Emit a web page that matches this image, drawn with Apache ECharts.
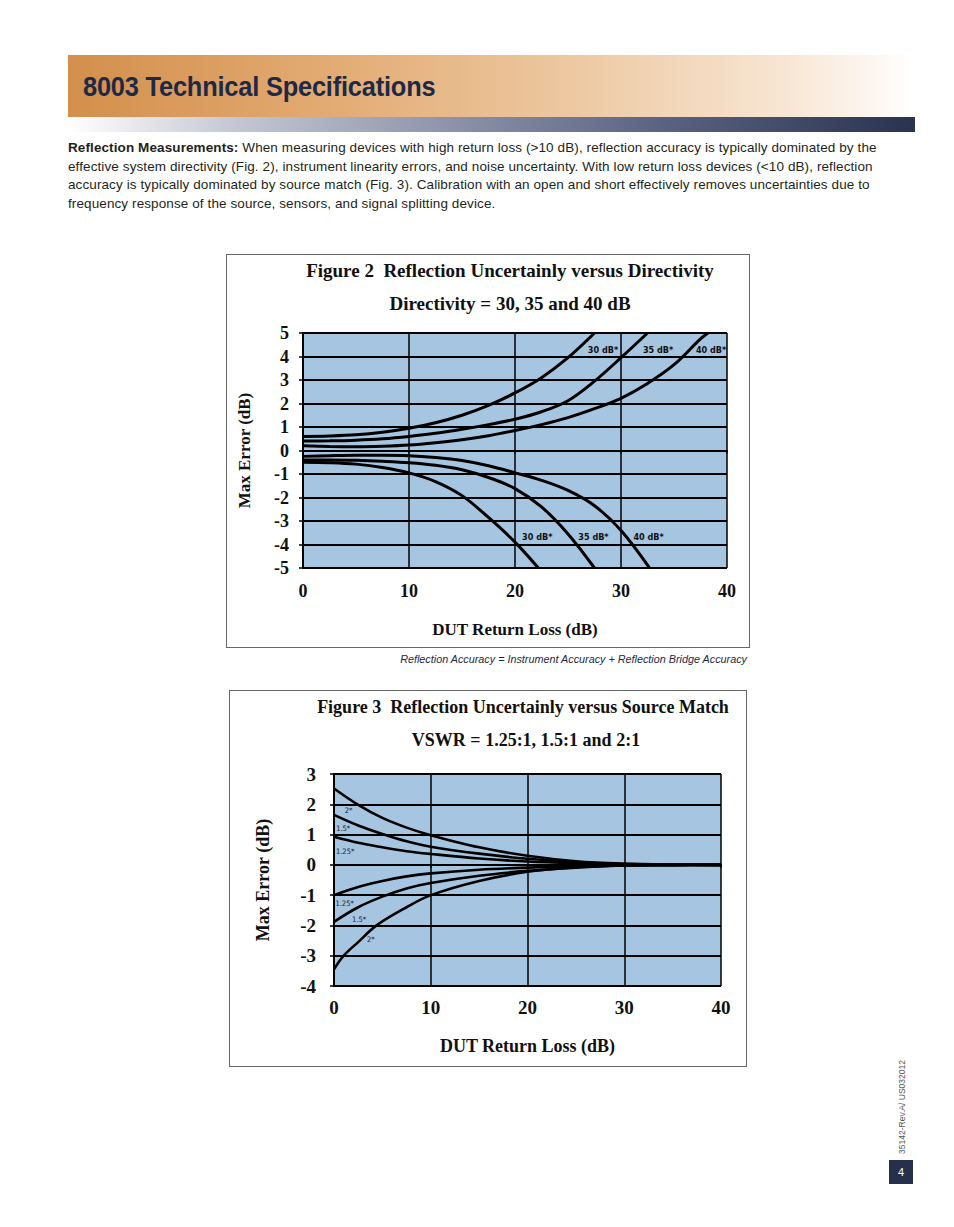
<!DOCTYPE html>
<html>
<head>
<meta charset="utf-8">
<script src="https://cdn.jsdelivr.net/npm/echarts@6/dist/echarts.min.js"></script>
<style>
  html, body { margin:0; padding:0; background:#fff; }
  body { width:954px; height:1227px; position:relative; overflow:hidden; font-family:"Liberation Sans", Arial, sans-serif; }
  #hdr { position:absolute; left:68px; top:55px; width:847px; height:62px;
    background:linear-gradient(90deg,#d38f4b 0%,#e2aa72 30%,#edc9a2 60%,#f8e6d4 85%,#ffffff 100%); }
  #hdr span { position:absolute; left:15px; top:17px; font-family:"Liberation Sans",Arial,sans-serif; font-weight:bold; font-size:27px; color:#1d2946; letter-spacing:-0.2px; transform-origin:0 0; transform:scaleX(0.94); white-space:nowrap; }
  #bar { position:absolute; left:68px; top:117px; width:847px; height:15px;
    background:linear-gradient(90deg,#ffffff 0%,#c3c6d3 20%,#8d93aa 45%,#5a6382 70%,#29334f 100%); }
  #para { position:absolute; left:68px; top:139px; width:860px; font-size:13.5px; line-height:18.7px; letter-spacing:0.1px; color:#231f20; white-space:nowrap; }
  #c1 { position:absolute; left:226px; top:254px; width:522px; height:392px; border:1px solid #666; }
  #c2 { position:absolute; left:229px; top:690px; width:516px; height:375px; border:1px solid #666; }
  #cap { position:absolute; right:207px; top:653px; font-size:10.8px; font-style:italic; color:#1d2946; white-space:nowrap; }
  #rev { position:absolute; left:902px; top:1107px; transform:translate(-50%,-50%) rotate(-90deg); font-size:8.5px; color:#555; white-space:nowrap; }
  #pg { position:absolute; left:889px; top:1160px; width:24px; height:24px; background:#26304b; color:#fff; font-size:11px; text-align:center; line-height:24px; }
</style>
</head>
<body>
<div id="hdr"><span>8003 Technical Specifications</span></div>
<div id="bar"></div>
<div id="para"><b>Reflection Measurements:</b> When measuring devices with high return loss (&gt;10 dB), reflection accuracy is typically dominated by the<br>effective system directivity (Fig. 2), instrument linearity errors, and noise uncertainty. With low return loss devices (&lt;10 dB), reflection<br>accuracy is typically dominated by source match (Fig. 3). Calibration with an open and short effectively removes uncertainties due to<br>frequency response of the source, sensors, and signal splitting device.</div>
<div id="c1"></div>
<div id="cap">Reflection Accuracy = Instrument Accuracy + Reflection Bridge Accuracy</div>
<div id="c2"></div>
<div id="rev">35142-Rev.A/ US032012</div>
<div id="pg">4</div>
<script>
// ---------- Figure 2 data (x = DUT return loss dB, y = max error dB) ----------
const fig2Title = "Figure 2  Reflection Uncertainly versus Directivity";
const fig2Sub = "Directivity = 30, 35 and 40 dB";
const fig2XTicks = [0, 10, 20, 30, 40];
const fig2YTicks = [-5, -4, -3, -2, -1, 0, 1, 2, 3, 4, 5];
const up30 = [[0,0.6],[2.5,0.62],[5,0.67],[7.5,0.78],[10,0.95],[12.5,1.18],[15,1.5],[17.5,1.92],[20,2.45],[22.5,3.1],[25,3.95],[27.5,5.0]];
const up35 = [[0,0.4],[2.5,0.41],[5,0.44],[7.5,0.5],[10,0.6],[12.5,0.73],[15,0.9],[17.5,1.1],[20,1.33],[22.5,1.65],[25,2.12],[27.5,2.95],[30,3.95],[32.5,5.0]];
const up40 = [[0,0.2],[2.5,0.17],[5,0.16],[7.5,0.18],[10,0.23],[12.5,0.33],[15,0.46],[17.5,0.63],[20,0.85],[22.5,1.1],[25,1.4],[27.5,1.78],[30,2.22],[32.5,2.85],[35,3.65],[37.5,4.75],[38.2,5.0]];
const lo30 = [[0,-0.5],[2.5,-0.52],[5,-0.58],[7.5,-0.72],[10,-0.95],[12.5,-1.32],[15,-1.92],[17.5,-2.85],[20,-3.9],[22.2,-5.0]];
const lo35 = [[0,-0.4],[2.5,-0.4],[5,-0.42],[7.5,-0.46],[10,-0.52],[12.5,-0.63],[15,-0.82],[17.5,-1.15],[20,-1.62],[22.5,-2.4],[25,-3.55],[27.5,-5.0]];
const lo40 = [[0,-0.25],[2.5,-0.22],[5,-0.2],[7.5,-0.2],[10,-0.22],[12.5,-0.3],[15,-0.43],[17.5,-0.65],[20,-0.95],[22.5,-1.27],[25,-1.7],[27.5,-2.35],[30,-3.4],[32.7,-5.0]];
const fig2Labels = ["30 dB*","35 dB*","40 dB*","30 dB*","35 dB*","40 dB*"];
const fig2LabelAt = [[28.3,4.28],[33.5,4.28],[38.5,4.28],[22.1,-3.68],[27.4,-3.68],[32.6,-3.68]];

// ---------- Figure 3 data ----------
const fig3Title = "Figure 3  Reflection Uncertainly versus Source Match";
const fig3Sub = "VSWR = 1.25:1, 1.5:1 and 2:1";
const fig3XTicks = [0, 10, 20, 30, 40];
const fig3YTicks = [-4, -3, -2, -1, 0, 1, 2, 3];
const up2   = [[0,2.52],[2.5,1.98],[5,1.55],[7.5,1.23],[10,0.98],[15,0.58],[20,0.3],[25,0.12],[30,0.04],[35,0.01],[40,0]];
const up15  = [[0,1.65],[2.5,1.3],[5,1.02],[7.5,0.78],[10,0.6],[15,0.37],[20,0.2],[25,0.09],[30,0.02],[35,0.01],[40,0]];
const up125 = [[0,0.93],[2.5,0.73],[5,0.58],[7.5,0.45],[10,0.36],[15,0.21],[20,0.11],[25,0.05],[30,0.01],[35,0],[40,0]];
const lo125 = [[0,-1.0],[2.5,-0.73],[5,-0.53],[7.5,-0.38],[10,-0.28],[15,-0.16],[20,-0.09],[25,-0.04],[30,-0.01],[35,0],[40,0]];
const lo15  = [[0,-1.88],[2.5,-1.4],[5,-1.05],[7.5,-0.78],[10,-0.6],[15,-0.36],[20,-0.2],[25,-0.09],[30,-0.02],[35,-0.01],[40,0]];
const lo2   = [[0,-3.45],[1,-3.0],[2.5,-2.55],[4.4,-2.0],[7.5,-1.4],[10,-1.0],[15,-0.53],[20,-0.23],[25,-0.08],[30,-0.02],[35,-0.01],[40,0]];
const fig3Labels = ["2*","1.5*","1.25*","1.25*","1.5*","2*"];
const fig3LabelAt = [[1.5,1.78],[0.95,1.19],[1.15,0.45],[1.1,-1.27],[2.6,-1.8],[3.8,-2.46]];

const serif = '"Liberation Serif","Times New Roman",serif';
const narrow = '"DejaVu Sans Condensed","Liberation Sans Narrow","Liberation Sans",sans-serif';

function lineSeries(data, label, at, lw, lblStyle) {
  return {
    type: 'line', data: data, smooth: 0.35, showSymbol: false, symbol: 'none',
    lineStyle: { color: '#000', width: lw }, silent: true, animation: false, z: 5,
    markPoint: {
      symbol: 'circle', symbolSize: 0, silent: true, animation: false,
      data: [{ coord: at, value: label }],
      label: Object.assign({ show: true, position: 'inside', formatter: label }, lblStyle)
    }
  };
}

function build(el, cfg) {
  const chart = echarts.init(el, null, { renderer: 'svg' });
  chart.setOption({
    animation: false,
    title: [
      { text: cfg.title, left: cfg.titleX, top: cfg.titleY, textAlign: 'center',
        textStyle: { fontFamily: serif, fontWeight: 'bold', fontSize: cfg.titleSize, color: '#111' } },
      { text: cfg.sub, left: cfg.subX, top: cfg.subY, textAlign: 'center',
        textStyle: { fontFamily: serif, fontWeight: 'bold', fontSize: cfg.subSize, color: '#111' } }
    ],
    grid: { left: cfg.grid[0], right: cfg.grid[1], top: cfg.grid[2], bottom: cfg.grid[3],
      outerBoundsMode: 'none', containLabel: false,
      show: true, backgroundColor: '#a6c5e0', borderWidth: 0 },
    xAxis: {
      type: 'value', min: cfg.xTicks[0], max: cfg.xTicks[cfg.xTicks.length - 1], interval: 10,
      name: 'DUT Return Loss (dB)', nameLocation: 'middle', nameGap: cfg.xNameGap,
      nameTextStyle: { fontFamily: serif, fontWeight: 'bold', fontSize: cfg.nameSize, color: '#111' },
      axisLine: { show: true, lineStyle: { color: '#000', width: 2 } },
      axisTick: { show: true, length: 3, lineStyle: { color: '#000', width: 1.5 } },
      axisLabel: { margin: cfg.xLabelMargin, fontFamily: serif, fontWeight: 'bold', fontSize: cfg.tickSize, color: '#111' },
      splitLine: { show: true, lineStyle: { color: '#000', width: 1.5 } }
    },
    yAxis: {
      type: 'value', min: cfg.yTicks[0], max: cfg.yTicks[cfg.yTicks.length - 1], interval: 1,
      name: 'Max Error (dB)', nameLocation: 'middle', nameGap: cfg.yNameGap, nameRotate: 90,
      nameTextStyle: { fontFamily: serif, fontWeight: 'bold', fontSize: cfg.nameSize, color: '#111' },
      axisLine: { show: true, lineStyle: { color: '#000', width: 2 } },
      axisTick: { show: true, length: 4, lineStyle: { color: '#000', width: 1.5 } },
      axisLabel: { margin: cfg.yLabelMargin, fontFamily: serif, fontWeight: 'bold', fontSize: cfg.tickSize, color: '#111' },
      splitLine: { show: true, lineStyle: { color: '#000', width: 2 } }
    },
    series: cfg.series.map((d, i) => lineSeries(d, cfg.labels[i], cfg.labelAt[i], cfg.lineWidth, cfg.lblStyle))
  });
}

build(document.getElementById('c1'), {
  title: fig2Title, sub: fig2Sub, titleX: 278, subX: 278, titleY: 1, subY: 34, titleSize: 19, subSize: 19,
  grid: [76, 22, 78, 79], xTicks: fig2XTicks, yTicks: fig2YTicks,
  xNameGap: 53, yNameGap: 50, nameSize: 17, tickSize: 18, xLabelMargin: 14, yLabelMargin: 14,
  series: [up30, up35, up40, lo30, lo35, lo40], labels: fig2Labels, labelAt: fig2LabelAt, lineWidth: 3,
  lblStyle: { fontFamily: narrow, fontWeight: 'bold', fontSize: 9, color: '#111' }
});

build(document.getElementById('c2'), {
  title: fig3Title, sub: fig3Sub, titleX: 288, subX: 291, titleY: 2, subY: 35, titleSize: 18, subSize: 18,
  grid: [104, 25, 83, 80], xTicks: fig3XTicks, yTicks: fig3YTicks,
  xNameGap: 51, yNameGap: 62, nameSize: 18, tickSize: 19, xLabelMargin: 12, yLabelMargin: 18,
  series: [up2, up15, up125, lo125, lo15, lo2], labels: fig3Labels, labelAt: fig3LabelAt, lineWidth: 2.6,
  lblStyle: { fontFamily: narrow, fontWeight: 'normal', fontSize: 7.5, color: '#222' }
});
</script>
</body>
</html>
